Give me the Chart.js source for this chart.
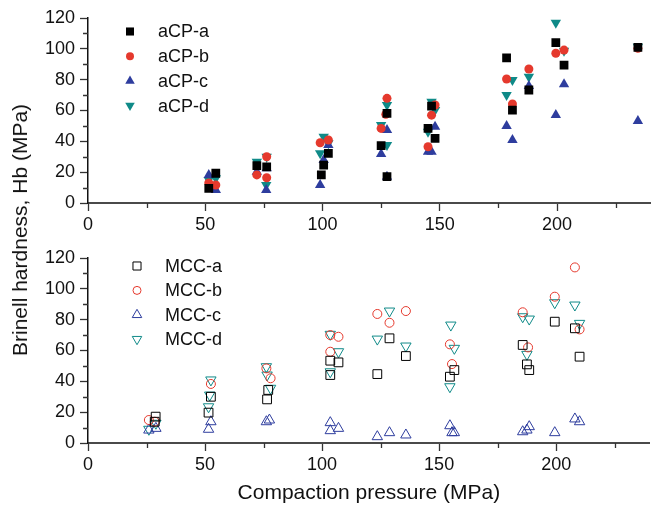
<!DOCTYPE html>
<html>
<head>
<meta charset="utf-8">
<script src="https://cdn.jsdelivr.net/npm/chart.js@4.4.1/dist/chart.umd.min.js"></script>
<style>
  html, body { margin: 0; padding: 0; background: #fff; }
  #wrap { position: relative; width: 657px; height: 511px; overflow: hidden; }
  canvas { position: absolute; left: 0; }
  #top { top: 0; }
  #bot { top: 240px; }
  #ytitle {
    position: absolute; left: 20px; top: 230px;
    transform: translate(-50%, -50%) rotate(-90deg);
    font: 21px "Liberation Sans", Arial, sans-serif; color: #111; white-space: nowrap;
  }
</style>
</head>
<body>
<div id="wrap">
  <canvas id="top" width="657" height="240"></canvas>
  <canvas id="bot" width="657" height="271"></canvas>
  <div id="ytitle">Brinell hardness, Hb (MPa)</div>
</div>
<script>
// ── Axis ticks ─────────────────────────────────────────────
const xMajor = [0, 50, 100, 150, 200];
const xMinor = [25, 75, 125, 175, 225];
const yMajor = [0, 20, 40, 60, 80, 100, 120];
const yMinor = [10, 30, 50, 70, 90, 110];

// ── aCP (filled markers, top panel) ────────────────────────
const aCPaX = [51.5, 54.5, 72, 76.2, 102.5, 99.5, 100.5, 127.5, 125, 127.5, 146.5, 145, 148, 178.5, 181, 188, 199.5, 203, 234.5];
const aCPaY = [9.5, 19.3, 24.2, 23.5, 32.2, 18.2, 24.6, 58.2, 37.2, 17.1, 62.9, 48.4, 41.9, 94.2, 60.3, 73.3, 104, 89.5, 101];
const aCPbX = [51.5, 54.5, 72, 76.2, 76.2, 99, 102.5, 127.5, 127, 125, 148, 146.5, 145, 178.5, 181, 188, 199.5, 203, 234.5];
const aCPbY = [13, 11.7, 18.2, 16.4, 30, 39.1, 40.9, 67.9, 57.5, 48.4, 63.6, 57, 36.5, 80.4, 64.2, 86.9, 97.1, 99.2, 100.3];
const aCPcX = [51.5, 54.5, 72, 76.2, 76, 99, 100.5, 102.5, 127.5, 125, 127.5, 148, 145, 146.5, 178.5, 181, 188, 203, 199.5, 234.5];
const aCPcY = [18.2, 8.4, 20.3, 22.5, 8.4, 11.7, 27.9, 37.6, 47.3, 31.8, 17, 49.5, 33.3, 33.3, 49.9, 40.9, 75.9, 77, 57.1, 53.2];
const aCPdX = [51.5, 54.5, 72, 76.2, 76, 100.5, 102.5, 99, 127.5, 125, 127.5, 146.5, 148, 145, 181, 178.5, 188, 199.5, 203, 234.5];
const aCPdY = [15, 16, 26.8, 30, 11.7, 43, 38.7, 32.2, 63.6, 50.6, 37.6, 65.7, 60.3, 46.2, 79.8, 70, 81.9, 116.9, 98.8, 101.4];

// ── MCC (open markers, bottom panel) ───────────────────────
const MCCaX = [28.9, 28.5, 52.5, 51.5, 77, 76.5, 103.5, 107, 103.5, 128.8, 123.6, 135.8, 156.5, 154.6, 185.7, 187.5, 188.5, 199.4, 208, 210];
const MCCaY = [17.1, 13.8, 30, 19.7, 34.4, 28.3, 53.4, 52.3, 44.1, 67.9, 44.7, 56.4, 47.3, 43, 63.6, 51, 47.3, 78.7, 74.4, 56];
const MCCbX = [26, 28.5, 52.5, 76.2, 78, 103.5, 107, 103.5, 123.6, 128.8, 135.8, 154.6, 155.5, 185.7, 188, 199.4, 208, 210];
const MCCbY = [14.9, 13.8, 38.3, 48.4, 42, 70, 68.9, 59.2, 83.7, 78, 85.6, 64, 51.2, 84.8, 62, 94.9, 113.9, 73.7];
const MCCcX = [26, 29, 52.5, 51.5, 76.2, 77.5, 103.5, 103.5, 107, 123.6, 128.8, 135.8, 154.6, 155.5, 156.5, 185.7, 188.5, 187.5, 199.4, 208, 210];
const MCCcY = [8.4, 9.5, 13.8, 8.9, 13.8, 14.9, 13.2, 8, 9.5, 4.1, 6.7, 5.2, 11.2, 6.7, 6.7, 7.3, 10.6, 8.4, 6.7, 15.6, 13.8];
const MCCdX = [26, 29, 52.5, 52, 51.5, 76.2, 76.5, 78, 103.5, 107, 103.5, 128.8, 123.6, 135.8, 155, 156.5, 154.6, 185.7, 188.5, 187.5, 199.4, 208, 210];
const MCCdY = [8.9, 12.8, 40.9, 31.1, 23.5, 49.5, 44.1, 35.5, 70.5, 59.2, 46.2, 85.6, 67.4, 62.9, 76.5, 61.4, 36.5, 81.9, 80.4, 57.5, 91, 89.5, 77.6];

const BLACK = '#000000', RED = '#E5392D', BLUE = '#2E3D9E', TEAL = '#0F8A88';
const FONT = '"Liberation Sans", Arial, sans-serif';

Chart.defaults.font.family = FONT;
Chart.defaults.color = '#111';

const zip = (xs, ys) => xs.map((x, i) => ({ x, y: ys[i] }));

function series(label, xs, ys, color, style, filled) {
  const radius = { rect: 6.2, circle: 4.5, triangle: 6, down: 6 }[style];
  return {
    label,
    data: zip(xs, ys),
    pointStyle: style === 'down' ? 'triangle' : style,
    pointRotation: style === 'down' ? 180 : 0,
    pointRadius: radius,
    pointHoverRadius: radius,
    pointBorderWidth: filled ? 0 : 1,
    pointBorderColor: color,
    pointBackgroundColor: filled ? color : 'rgba(255,255,255,0)',
    showLine: false
  };
}

// minor ticks + in-plot legend
const decor = {
  id: 'decor',
  afterDraw(chart, args, opts) {
    const { ctx } = chart;
    const xs = chart.scales.x, ys = chart.scales.y;
    ctx.save();
    ctx.strokeStyle = '#333';
    ctx.lineWidth = 1.3;
    ctx.beginPath();
    xMinor.forEach(v => {
      const px = Math.round(xs.getPixelForValue(v)) + 0.5;
      ctx.moveTo(px, ys.bottom); ctx.lineTo(px, ys.bottom + 5);
    });
    yMinor.forEach(v => {
      const py = Math.round(ys.getPixelForValue(v)) + 0.5;
      ctx.moveTo(xs.left, py); ctx.lineTo(xs.left - 5, py);
    });
    ctx.stroke();

    ctx.font = '18px ' + FONT;
    ctx.textBaseline = 'middle';
    chart.data.datasets.forEach((ds, i) => {
      const y = opts.y0 + i * opts.dy;
      ctx.fillStyle = ds.pointBackgroundColor;
      ctx.strokeStyle = ds.pointBorderColor;
      ctx.lineWidth = ds.pointBorderWidth;
      Chart.helpers.drawPoint(ctx, {
        pointStyle: ds.pointStyle, rotation: ds.pointRotation,
        radius: ds.pointRadius - 0.5, borderWidth: ds.pointBorderWidth
      }, opts.mx, y);
      ctx.fillStyle = '#111';
      ctx.fillText(ds.label, opts.tx, y + 1);
    });
    ctx.restore();
  }
};

function makeChart(id, datasets, xHeight, withTitle, legendPos) {
  return new Chart(document.getElementById(id), {
    type: 'scatter',
    data: { datasets },
    plugins: [decor],
    options: {
      responsive: false,
      animation: false,
      devicePixelRatio: 1,
      layout: { padding: { top: 18, right: 2, left: 0, bottom: 0 } },
      plugins: { legend: { display: false }, tooltip: { enabled: false }, decor: legendPos },
      scales: {
        x: {
          type: 'linear', min: 0, max: 240,
          afterBuildTicks: s => { s.ticks = xMajor.map(v => ({ value: v })); },
          afterFit: s => { s.height = xHeight; },
          ticks: { autoSkip: false, maxRotation: 0, padding: 3, font: { size: 18 }, color: '#111' },
          grid: { drawOnChartArea: false, tickLength: 8, tickColor: '#333', tickWidth: 1.3 },
          border: { display: true, color: '#4a4a4a', width: 2 },
          title: {
            display: withTitle, text: 'Compaction pressure (MPa)',
            font: { size: 21 }, color: '#111', padding: { top: 0, bottom: 5 }
          }
        },
        y: {
          type: 'linear', min: 0, max: 120,
          afterBuildTicks: s => { s.ticks = yMajor.map(v => ({ value: v })); },
          afterFit: s => { s.width = 88; },
          ticks: { autoSkip: false, padding: 5, font: { size: 18 }, color: '#111' },
          grid: { drawOnChartArea: false, tickLength: 8, tickColor: '#333', tickWidth: 1.3 },
          border: { display: true, color: '#111', width: 1.5 }
        }
      }
    }
  });
}

makeChart('top', [
  series('aCP-a', aCPaX, aCPaY, BLACK, 'rect', true),
  series('aCP-b', aCPbX, aCPbY, RED, 'circle', true),
  series('aCP-c', aCPcX, aCPcY, BLUE, 'triangle', true),
  series('aCP-d', aCPdX, aCPdY, TEAL, 'down', true)
], 37, false, { mx: 130, tx: 158, y0: 31.5, dy: 24.7 });

makeChart('bot', [
  series('MCC-a', MCCaX, MCCaY, BLACK, 'rect', false),
  series('MCC-b', MCCbX, MCCbY, RED, 'circle', false),
  series('MCC-c', MCCcX, MCCcY, BLUE, 'triangle', false),
  series('MCC-d', MCCdX, MCCdY, TEAL, 'down', false)
], 68, true, { mx: 137, tx: 165, y0: 26, dy: 24.4 });
</script>
</body>
</html>
